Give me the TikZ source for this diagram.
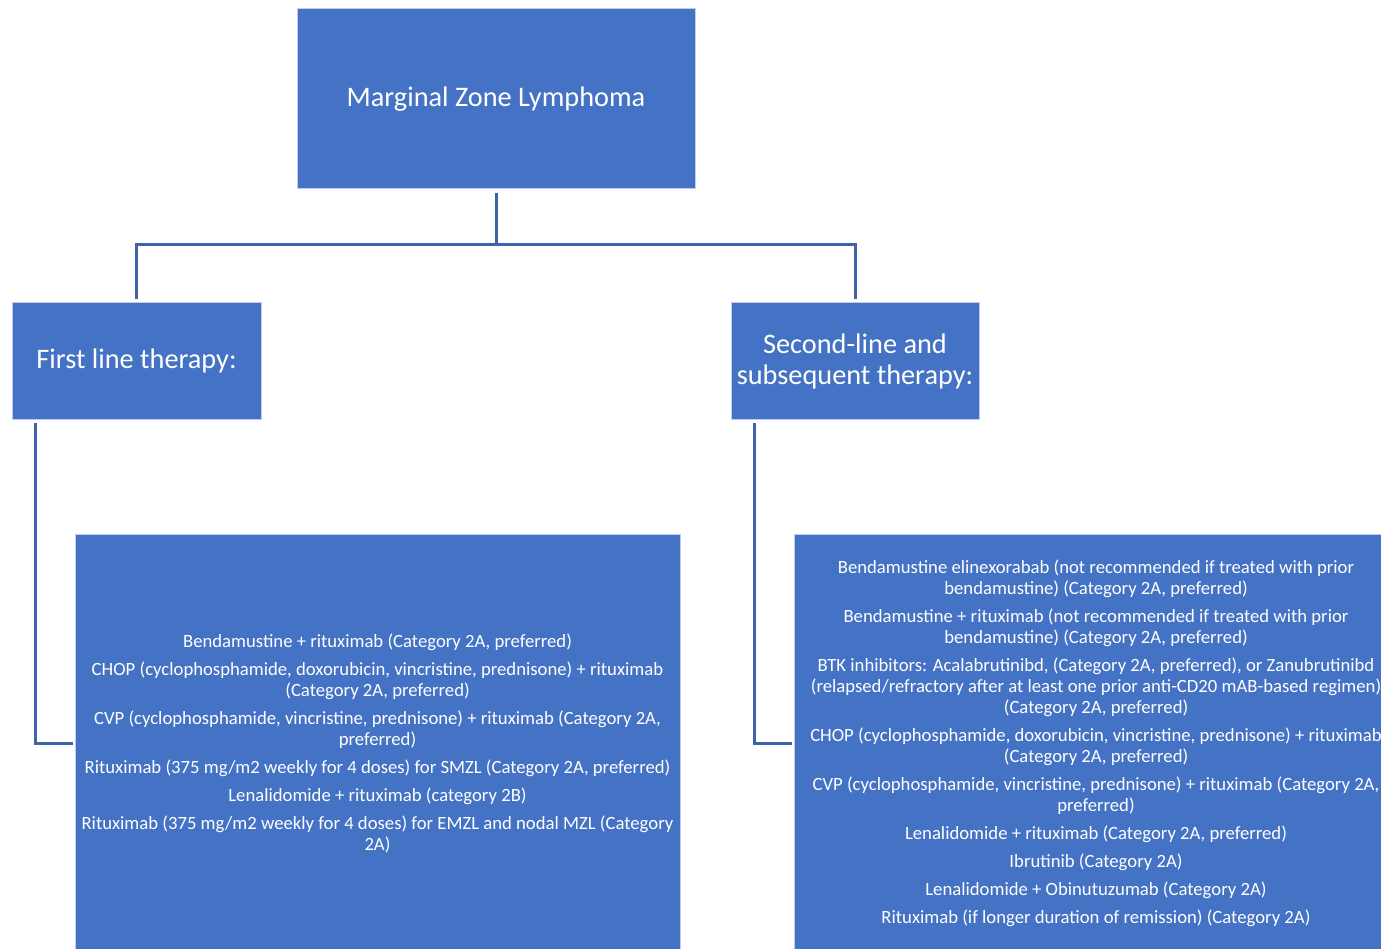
\documentclass[tikz,border=0pt]{standalone}
\usepackage{fontspec}
\setmainfont{Carlito}
\definecolor{boxblue}{HTML}{4472C4}
\definecolor{lineblue}{HTML}{3F63AB}
\begin{document}
\begin{tikzpicture}[x=1pt,y=-1pt,
  box/.style={fill=boxblue, draw=white!65!boxblue, line width=1pt, text=white, inner sep=0pt, align=center},
  conn/.style={draw=lineblue, line width=3pt},
  small/.style={font=\fontsize{18.7}{21}\selectfont},
  big/.style={font=\fontsize{28.3}{31}\selectfont}]
\useasboundingbox (0,0) rectangle (1381,949);
\node[box, minimum width=398, minimum height=180, big] (top) at (496,99) {Marginal Zone Lymphoma};
\node[box, minimum width=249, minimum height=116, big] (first) at (136.5,361) {First line therapy:};
\node[box, minimum width=248, minimum height=116, big] (second) at (855,361) {Second-line and\\subsequent therapy:};
\node[box, minimum width=605, minimum height=419, small] (left) at (377.5,743.5) {%
Bendamustine + rituximab (Category 2A, preferred)\\[7pt]
CHOP (cyclophosphamide, doxorubicin, vincristine, prednisone) + rituximab\\(Category 2A, preferred)\\[7pt]
CVP (cyclophosphamide, vincristine, prednisone) + rituximab (Category 2A,\\preferred)\\[7pt]
Rituximab (375 mg/m2 weekly for 4 doses) for SMZL (Category 2A, preferred)\\[7pt]
Lenalidomide + rituximab (category 2B)\\[7pt]
Rituximab (375 mg/m2 weekly for 4 doses) for EMZL and nodal MZL (Category\\2A)};
\node[box, minimum width=604, minimum height=419, small] (right) at (1096,743.5) {%
Bendamustine elinexorabab (not recommended if treated with prior\\bendamustine) (Category 2A, preferred)\\[7pt]
Bendamustine + rituximab (not recommended if treated with prior\\bendamustine) (Category 2A, preferred)\\[7pt]
BTK inhibitors: Acalabrutinibd, (Category 2A, preferred), or Zanubrutinibd\\(relapsed/refractory after at least one prior anti-CD20 mAB-based regimen)\\(Category 2A, preferred)\\[7pt]
CHOP (cyclophosphamide, doxorubicin, vincristine, prednisone) + rituximab\\(Category 2A, preferred)\\[7pt]
CVP (cyclophosphamide, vincristine, prednisone) + rituximab (Category 2A,\\preferred)\\[7pt]
Lenalidomide + rituximab (Category 2A, preferred)\\[7pt]
Ibrutinib (Category 2A)\\[7pt]
Lenalidomide + Obinutuzumab (Category 2A)\\[7pt]
Rituximab (if longer duration of remission) (Category 2A)};
\coordinate (bus) at (496,245);
\draw[conn] ([yshift=-4pt]top.south) -- (bus);
\draw[conn] ([yshift=3pt]first.north) |- (bus) -| ([yshift=3pt]second.north);
\draw[conn] ([xshift=24pt,yshift=-3pt]first.south west) |- ([xshift=-2pt]left.west);
\draw[conn] ([xshift=24pt,yshift=-3pt]second.south west) |- ([xshift=-2pt]right.west);
\end{tikzpicture}
\end{document}
